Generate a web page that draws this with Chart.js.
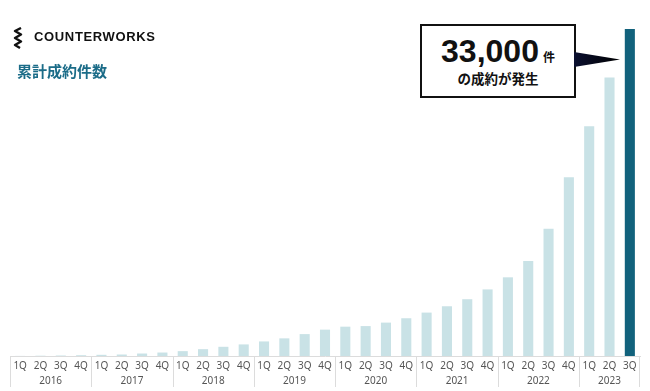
<!DOCTYPE html>
<html>
<head>
<meta charset="utf-8">
<script src="https://cdn.jsdelivr.net/npm/chart.js@4"></script>
<style>
  html, body { margin: 0; padding: 0; background: #fff; }
  #wrap { position: relative; width: 650px; height: 391px; overflow: hidden; }
  #grafico { position: absolute; left: 0; top: 0; }
  .logo { position: absolute; left: 34px; top: 29px; font: bold 13px "Liberation Sans", Arial, sans-serif; letter-spacing: 0.65px; color: #111; }
  .icono { position: absolute; left: 12px; top: 27px; }
  .titulo { position: absolute; left: 17px; top: 60px; font: bold 15px "Noto Sans CJK JP", sans-serif; color: #1b6c88; }
  .globo { position: absolute; left: 420px; top: 24px; width: 152px; height: 70px; border: 2px solid #111; background: #fff; text-align: center; }
  .globo .num { position: absolute; left: 0; right: 0; top: 8px; font: bold 32px "Liberation Sans", Arial, sans-serif; color: #111; line-height: 34px; }
  .globo .num span { font: bold 12px "Noto Sans CJK JP", sans-serif; margin-left: 4px; }
  .globo .sub { position: absolute; left: 0; right: 0; top: 42px; font: bold 13.5px "Noto Sans CJK JP", sans-serif; color: #111; line-height: 20px; }
  .flecha { position: absolute; left: 574px; top: 50px; }
</style>
</head>
<body>
<div id="wrap">
  <canvas id="grafico" width="650" height="391"></canvas>
  <svg class="icono" width="12" height="22" viewBox="0 0 12 22">
    <path d="M9 1 L3 4 L9 7.5 L3 11 L9 14.5 L3 18 L8 21" fill="none" stroke="#111" stroke-width="2.4" stroke-linejoin="round"/>
  </svg>
  <div class="logo">COUNTERWORKS</div>
  <div class="titulo">累計成約件数</div>
  <div class="globo">
    <div class="num">33,000<span>件</span></div>
    <div class="sub">の成約が発生</div>
  </div>
  <svg class="flecha" width="48" height="20" viewBox="0 0 48 20">
    <defs>
      <linearGradient id="g" x1="0" x2="1" y1="0" y2="0">
        <stop offset="0" stop-color="#0b1030"/>
        <stop offset="1" stop-color="#000"/>
      </linearGradient>
    </defs>
    <polygon points="0,2 0,17 46,9.5" fill="url(#g)"/>
  </svg>
</div>
<script>
// datos
var trimestres = ['1Q','2Q','3Q','4Q','1Q','2Q','3Q','4Q','1Q','2Q','3Q','4Q','1Q','2Q','3Q','4Q',
                  '1Q','2Q','3Q','4Q','1Q','2Q','3Q','4Q','1Q','2Q','3Q','4Q','1Q','2Q','3Q'];
var anios = ['2016','2017','2018','2019','2020','2021','2022','2023'];
var contratos = [10, 30, 50, 80, 120, 150, 250, 350, 490, 690, 930, 1170, 1470, 1780, 2210, 2660,
                 2960, 3020, 3370, 3810, 4380, 5020, 5730, 6720, 7940, 9590, 12840, 18050, 23190, 28100, 33000];

var colores = contratos.map(function (v, i) {
    return i === contratos.length - 1 ? '#12627c' : '#c9e2e6';
});

// lineas de separacion y etiquetas de anio debajo del eje
var pluginAnios = {
    id: 'anios',
    afterDraw: function (chart) {
        var ctx = chart.ctx;
        var x = chart.scales.x;
        var base = chart.chartArea.bottom;
        var medio = (x.getPixelForValue(1) - x.getPixelForValue(0)) / 2;
        ctx.save();
        ctx.strokeStyle = '#dcdcdc';
        ctx.lineWidth = 1;
        ctx.fillStyle = '#555';
        ctx.font = '10px "Noto Sans", sans-serif';
        ctx.textAlign = 'center';
        ctx.textBaseline = 'middle';
        for (var i = 0; i < anios.length; i++) {
            var desde = i * 4;
            var hasta = Math.min(desde + 3, trimestres.length - 1);
            var x0 = x.getPixelForValue(desde) - medio;
            var x1 = x.getPixelForValue(hasta) + medio;
            ctx.beginPath();
            ctx.moveTo(Math.round(x0) + 0.5, base);
            ctx.lineTo(Math.round(x0) + 0.5, base + 31);
            ctx.stroke();
            if (i === anios.length - 1) {
                ctx.beginPath();
                ctx.moveTo(Math.round(x1) - 0.5, base);
                ctx.lineTo(Math.round(x1) - 0.5, base + 31);
                ctx.stroke();
            }
            ctx.fillText(anios[i], (x0 + x1) / 2, base + 25.5);
        }
        ctx.restore();
    }
};

const ctx = document.getElementById('grafico');
var myChart = new Chart(ctx, {
    type: 'bar',
    data: {
        labels: trimestres,
        datasets: [{
            label: '累計成約件数',
            data: contratos,
            backgroundColor: colores,
            barPercentage: 0.62,
            categoryPercentage: 0.8
        }]
    },
    options: {
        responsive: false,
        animation: false,
        layout: { padding: { left: 10, right: 10, top: 29, bottom: 15 } },
        plugins: {
            legend: { display: false },
            tooltip: { enabled: false }
        },
        scales: {
            x: {
                grid: { display: false, drawTicks: false },
                border: { display: true, color: '#dcdcdc', width: 1 },
                ticks: {
                    color: '#555',
                    font: { family: '"Noto Sans", sans-serif', size: 10 },
                    padding: 4,
                    maxRotation: 0,
                    autoSkip: false
                }
            },
            y: {
                display: false,
                min: 0,
                max: 33000
            }
        }
    },
    plugins: [pluginAnios]
});
</script>
</body>
</html>
